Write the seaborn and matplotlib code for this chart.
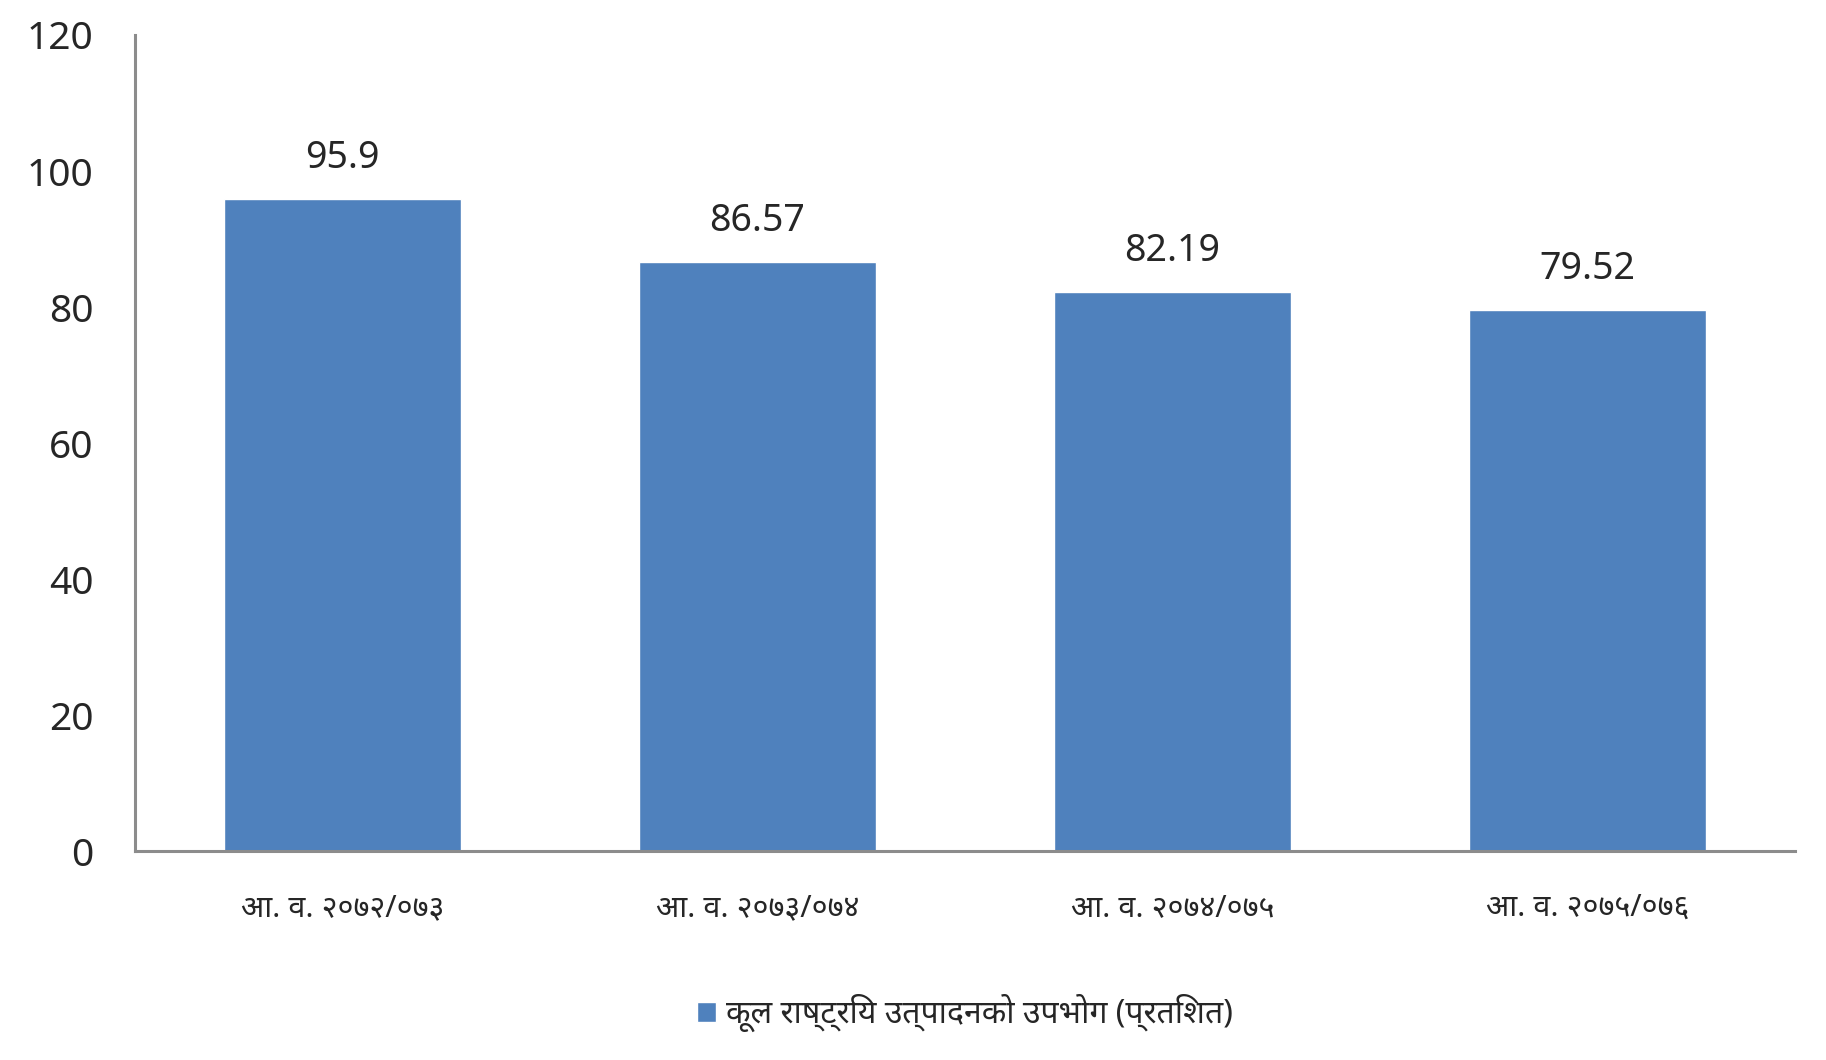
import matplotlib
matplotlib.use("Agg")
import matplotlib.pyplot as plt
import seaborn as sns
import pandas as pd

years = ["आ. व. २०७२/०७३", "आ. व. २०७३/०७४", "आ. व. २०७४/०७५", "आ. व. २०७५/०७६"]
values = [95.9, 86.57, 82.19, 79.52]
series_name = "कूल राष्ट्रिय उत्पादनको उपभोग (प्रतिशत)"

df = pd.DataFrame({"year": years, "value": values, "series": series_name})

sns.set_theme(style="white")
plt.rcParams['font.family'] = ['Noto Sans', 'DejaVu Sans']

fig = plt.figure(figsize=(18.26, 10.60), dpi=100)
ax = fig.add_axes([0.074, 0.197, 0.909, 0.770])

sns.barplot(data=df, x="year", y="value", hue="series",
            palette=["#4f81bd"], saturation=1, width=0.57, ax=ax, legend=True)

ax.set_ylim(0, 120)
ax.set_yticks(range(0, 121, 20))
ax.set_xlim(-0.5, 3.5)
ax.set_xlabel("")
ax.set_ylabel("")
ax.tick_params(axis="y", labelsize=28, length=0, pad=30)
ax.tick_params(axis="x", labelsize=22, length=0, pad=30)

for s in ["top", "right"]:
    ax.spines[s].set_visible(False)
for s in ["left", "bottom"]:
    ax.spines[s].set_color("#8c8c8c")
    ax.spines[s].set_linewidth(2.2)

for c in ax.containers:
    ax.bar_label(c, labels=[f"{v:g}" for v in values], padding=16, fontsize=27)

ax.legend(loc="upper center", bbox_to_anchor=(0.5, -0.14), frameon=False,
          fontsize=23, handlelength=0.6, handleheight=0.6, handletextpad=0.3)

fig.savefig("out.png", dpi=100, facecolor="white")
